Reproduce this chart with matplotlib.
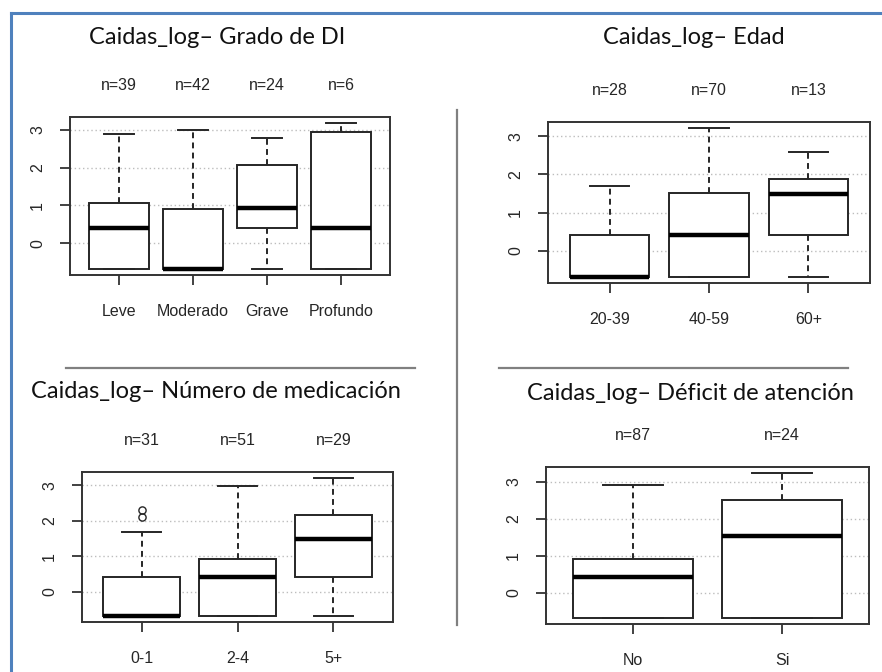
import matplotlib
matplotlib.use("Agg")
import matplotlib.pyplot as plt
from matplotlib.lines import Line2D

# ---- data: log-transformed fall counts by group ----
grado_cats = ["Leve", "Moderado", "Grave", "Profundo"]
grado_n = [39, 42, 24, 6]
grado_whislo = [-0.69, -0.69, -0.69, -0.69]
grado_q1 = [-0.69, -0.69, 0.41, -0.69]
grado_med = [0.41, -0.69, 0.92, 0.41]
grado_q3 = [1.06, 0.90, 2.07, 2.95]
grado_whishi = [2.90, 3.00, 2.79, 3.19]
grado_fliers = [[], [], [], []]

edad_cats = ["20-39", "40-59", "60+"]
edad_n = [28, 70, 13]
edad_whislo = [-0.69, -0.69, -0.69]
edad_q1 = [-0.69, -0.69, 0.41]
edad_med = [-0.69, 0.41, 1.50]
edad_q3 = [0.41, 1.52, 1.87]
edad_whishi = [1.70, 3.22, 2.60]
edad_fliers = [[], [], []]

med_cats = ["0-1", "2-4", "5+"]
med_n = [31, 51, 29]
med_whislo = [-0.69, -0.69, -0.69]
med_q1 = [-0.69, -0.69, 0.41]
med_med = [-0.69, 0.41, 1.50]
med_q3 = [0.41, 0.92, 2.16]
med_whishi = [1.70, 2.97, 3.22]
med_fliers = [[2.11, 2.31], [], []]

atencion_cats = ["No", "Si"]
atencion_n = [87, 24]
atencion_whislo = [-0.69, -0.69]
atencion_q1 = [-0.69, -0.69]
atencion_med = [0.41, 1.52]
atencion_q3 = [0.92, 2.50]
atencion_whishi = [2.92, 3.24]
atencion_fliers = [[], []]

titles = [
    "Caidas_log\u2013 Grado de DI",
    "Caidas_log\u2013 Edad",
    "Caidas_log\u2013 N\u00famero de medicaci\u00f3n",
    "Caidas_log\u2013 D\u00e9ficit de atenci\u00f3n",
]

W, H = 882, 672
fig = plt.figure(figsize=(W / 100, H / 100), dpi=100)
fig.patch.set_facecolor("white")

R_FONT = ["Liberation Sans Narrow", "Liberation Sans", "DejaVu Sans"]
T_FONT = ["Lato", "DejaVu Sans"]
INK = "#262626"
R_SIZE = 11.5


def fx(px):
    return px / W


def fy(py):
    return 1 - py / H


def add_panel(box_px, cats, ns, whislo, q1, med, q3, whishi, fliers):
    x0, y0, x1, y1 = box_px
    ax = fig.add_axes([fx(x0), fy(y1), (x1 - x0) / W, (y1 - y0) / H])
    stats = []
    for i in range(len(cats)):
        stats.append(dict(med=med[i], q1=q1[i], q3=q3[i],
                          whislo=whislo[i], whishi=whishi[i],
                          fliers=fliers[i]))
    n = len(cats)
    pos = list(range(1, n + 1))
    ax.bxp(stats, positions=pos, widths=0.8, capwidths=0.4,
           showfliers=True, patch_artist=True,
           boxprops=dict(facecolor="white", edgecolor=INK, linewidth=1.4),
           medianprops=dict(color="black", linewidth=3.2, solid_capstyle="butt"),
           whiskerprops=dict(color=INK, linewidth=1.4, linestyle=(0, (3, 2.2))),
           capprops=dict(color=INK, linewidth=1.4),
           flierprops=dict(marker="o", markerfacecolor="none",
                           markeredgecolor=INK, markersize=5.2,
                           markeredgewidth=1.0))
    # R-style axis ranges: 4% padding
    allv = whislo + whishi + [v for f in fliers for v in f]
    lo, hi = min(allv), max(allv)
    pad = 0.04 * (hi - lo)
    ax.set_ylim(lo - pad, hi + pad)
    xpad = 0.04 * n
    ax.set_xlim(0.5 - xpad, n + 0.5 + xpad)

    ax.set_yticks([0, 1, 2, 3])
    ax.set_xticks(pos)
    ax.set_xticklabels(cats)
    ax.set_axisbelow(True)
    ax.yaxis.grid(True, linestyle=(0, (1, 2)), color="#bdbdbd", linewidth=1.0)
    ax.xaxis.grid(False)
    for s in ax.spines.values():
        s.set_color("#333333")
        s.set_linewidth(1.4)
    ax.tick_params(axis="both", direction="out", length=7.5, width=1.3,
                   color="#333333", labelcolor=INK, labelsize=R_SIZE)
    ax.tick_params(axis="x", pad=13.5)
    ax.tick_params(axis="y", pad=10.5)
    for lab in ax.get_yticklabels() + ax.get_xticklabels():
        lab.set_fontfamily(R_FONT)
    for lab in ax.get_yticklabels():
        lab.set_rotation(90)
        lab.set_va("center")
    for p, nn in zip(pos, ns):
        ax.annotate(f"n={nn}", xy=(p, 1), xycoords=("data", "axes fraction"),
                    xytext=(0, 23), textcoords="offset points",
                    ha="center", va="center", fontsize=R_SIZE,
                    family=R_FONT, color=INK)
    return ax


add_panel((70, 117, 390, 275), grado_cats, grado_n, grado_whislo, grado_q1,
          grado_med, grado_q3, grado_whishi, grado_fliers)
add_panel((548, 122, 870, 283), edad_cats, edad_n, edad_whislo, edad_q1,
          edad_med, edad_q3, edad_whishi, edad_fliers)
add_panel((82, 472, 393, 622), med_cats, med_n, med_whislo, med_q1,
          med_med, med_q3, med_whishi, med_fliers)
add_panel((546, 467, 869, 624), atencion_cats, atencion_n, atencion_whislo,
          atencion_q1, atencion_med, atencion_q3, atencion_whishi,
          atencion_fliers)

# panel titles
title_pos = [(217, 37), (694, 38), (216, 392), (690, 394)]
for t, (px, py) in zip(titles, title_pos):
    fig.text(fx(px), fy(py), t, ha="center", va="center",
             family=T_FONT, fontsize=17, color="#111111")

# slide separators
sep = "#808080"
fig.add_artist(Line2D([fx(457), fx(457)], [fy(110), fy(625)],
                      transform=fig.transFigure, color=sep, lw=1.6))
fig.add_artist(Line2D([fx(66), fx(415)], [fy(368), fy(368)],
                      transform=fig.transFigure, color=sep, lw=1.6))
fig.add_artist(Line2D([fx(499), fx(848)], [fy(368), fy(368)],
                      transform=fig.transFigure, color=sep, lw=1.6))

# blue frame (top and left edges)
blue = "#4f81bd"
fig.add_artist(Line2D([fx(10.5), fx(W)], [fy(13), fy(13)],
                      transform=fig.transFigure, color=blue, lw=2.2,
                      solid_capstyle="projecting"))
fig.add_artist(Line2D([fx(10.5), fx(10.5)], [fy(13), fy(H)],
                      transform=fig.transFigure, color=blue, lw=2.2,
                      solid_capstyle="projecting"))

fig.savefig("out.png", dpi=100, facecolor="white")
